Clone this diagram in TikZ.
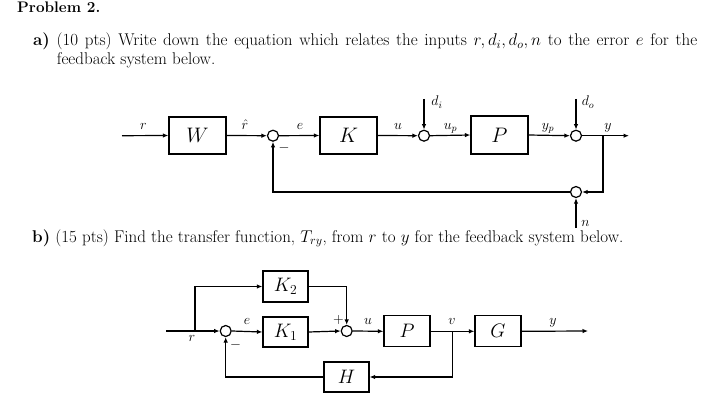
\RequirePackage{fix-cm}
\documentclass[tikz,border=0pt]{standalone}
\usetikzlibrary{arrows.meta}
\begin{document}
\begin{tikzpicture}[x=1pt,y=-1pt,
  blk/.style={draw,line width=1.2pt,minimum width=#1,inner sep=0pt},
  sumc/.style={draw,circle,line width=1.2pt,minimum size=11pt,inner sep=0pt},
  con/.style={line width=1.2pt,-{Latex[length=5.5pt,width=4.5pt]}},
  lbl/.style={anchor=base,inner sep=0pt,font=\fontsize{14}{16}\selectfont},
  bigl/.style={font=\fontsize{21}{24}\selectfont},
  midl/.style={font=\fontsize{19.5}{22}\selectfont},
  body/.style={anchor=base west,inner sep=0pt,font=\fontsize{17}{19}\selectfont}
]
\useasboundingbox (0,0) rectangle (718,412);

% ---- text ----
\node[body,font=\fontsize{15.3}{18}\selectfont\bfseries] (title) at (17,12.5) {Problem 2.};
\node[body] (qa1) at (33,46) {\makebox[664pt][s]{\textbf{a)} (10 pts) Write down the equation which relates the inputs $r,d_i,d_o,n$ to the error $e$ for the}};
\node[body] (qa2) at (56.7,65) {feedback system below.};
\node[body] (qb) at (32,242) {\textbf{b)} (15 pts) Find the transfer function, $T_{ry}$, from $r$ to $y$ for the feedback system below.};

% ---- part a ----
\node[blk=57pt,minimum height=37pt,bigl] (W) at (197.5,135.5) {$W$};
\node[blk=57pt,minimum height=37pt,bigl] (K) at (348.5,135.5) {$K$};
\node[blk=57pt,minimum height=38pt,bigl] (P) at (499.5,135) {$P$};
\node[sumc] (s1) at (273,135.7) {};
\node[sumc] (s2) at (424,135.7) {};
\node[sumc] (s3) at (576,135.7) {};
\node[sumc] (s4) at (576,192) {};
\coordinate (ina) at (122,135.7);
\coordinate (dia) at (424,99);
\coordinate (doa) at (576,99);
\coordinate (outa) at (629,135.7);
\coordinate (b1) at (603,135.7);
\coordinate (na) at (576,228);

\draw[con] (ina) -- (W.west);
\draw[con] (W.east) -- (s1.west);
\draw[con] (s1.east) -- (K.west);
\draw[con] (K.east) -- (s2.west);
\draw[con] (dia) -- (s2.north);
\draw[con] (s2.east) -- (P.west);
\draw[con] (P.east) -- (s3.west);
\draw[con] (doa) -- (s3.north);
\draw[con] (s3.east) -- (outa);
\draw[con] (b1) |- (s4.east);
\draw[con] (na) -- (s4.south);
\draw[con] (s4.west) -| (s1.south);

\node[lbl] (lr) at (143.5,129) {$r$};
\node[lbl] (lrh) at (245,129) {$\hat r$};
\node[lbl] (le) at (300,129) {$e$};
\node[lbl] (lu) at (398,129) {$u$};
\node[lbl] (ldi) at (437,106) {$d_i$};
\node[lbl] (lup) at (450.5,129) {$u_p$};
\node[lbl] (lyp) at (548,129) {$y_p$};
\node[lbl] (ldo) at (588,106) {$d_o$};
\node[lbl] (ly) at (608,129) {$y$};
\node[lbl] (ln) at (585.5,226.5) {$n$};
\node[lbl,anchor=center] (lm1) at (284,147.5) {$-$};

% ---- part b ----
\node[blk=45pt,minimum height=31pt,midl] (K2) at (285.5,286.5) {$K_2$};
\node[blk=45pt,minimum height=30pt,midl] (K1) at (285.5,332) {$K_1$};
\node[blk=46pt,minimum height=31pt,midl] (P2) at (407,331.3) {$P$};
\node[blk=46pt,minimum height=31pt,midl] (G) at (498,331.3) {$G$};
\node[blk=45pt,minimum height=30pt,midl] (H) at (346.5,377) {$H$};
\node[sumc] (s5) at (225.7,331) {};
\node[sumc] (s6) at (346.7,331) {};
\coordinate (inb) at (166,331);
\coordinate (b2) at (195,331);
\coordinate (b3) at (452.7,331);
\coordinate (outb) at (588,331);

\draw[con] (inb) -- (s5.west);
\draw[con] (b2) |- (K2.west);
\draw[con] (s5.east) -- (K1.west);
\draw[con] (K1.east) -- (s6.west);
\draw[con] (K2.east) -| (s6.north);
\draw[con] (s6.east) -- (P2.west);
\draw[con] (P2.east) -- (G.west);
\draw[con] (G.east) -- (outb);
\draw[con] (b3) |- (H.east);
\draw[con] (H.west) -| (s5.south);

\node[lbl] (lrb) at (192,341.5) {$r$};
\node[lbl] (leb) at (247,324) {$e$};
\node[lbl] (lub) at (368,324) {$u$};
\node[lbl] (lvb) at (452,324) {$v$};
\node[lbl] (lyb) at (553,324) {$y$};
\node[lbl,anchor=center] (lp) at (338.5,320) {$+$};
\node[lbl,anchor=center] (lm2) at (235.5,345) {$-$};
\end{tikzpicture}
\end{document}
